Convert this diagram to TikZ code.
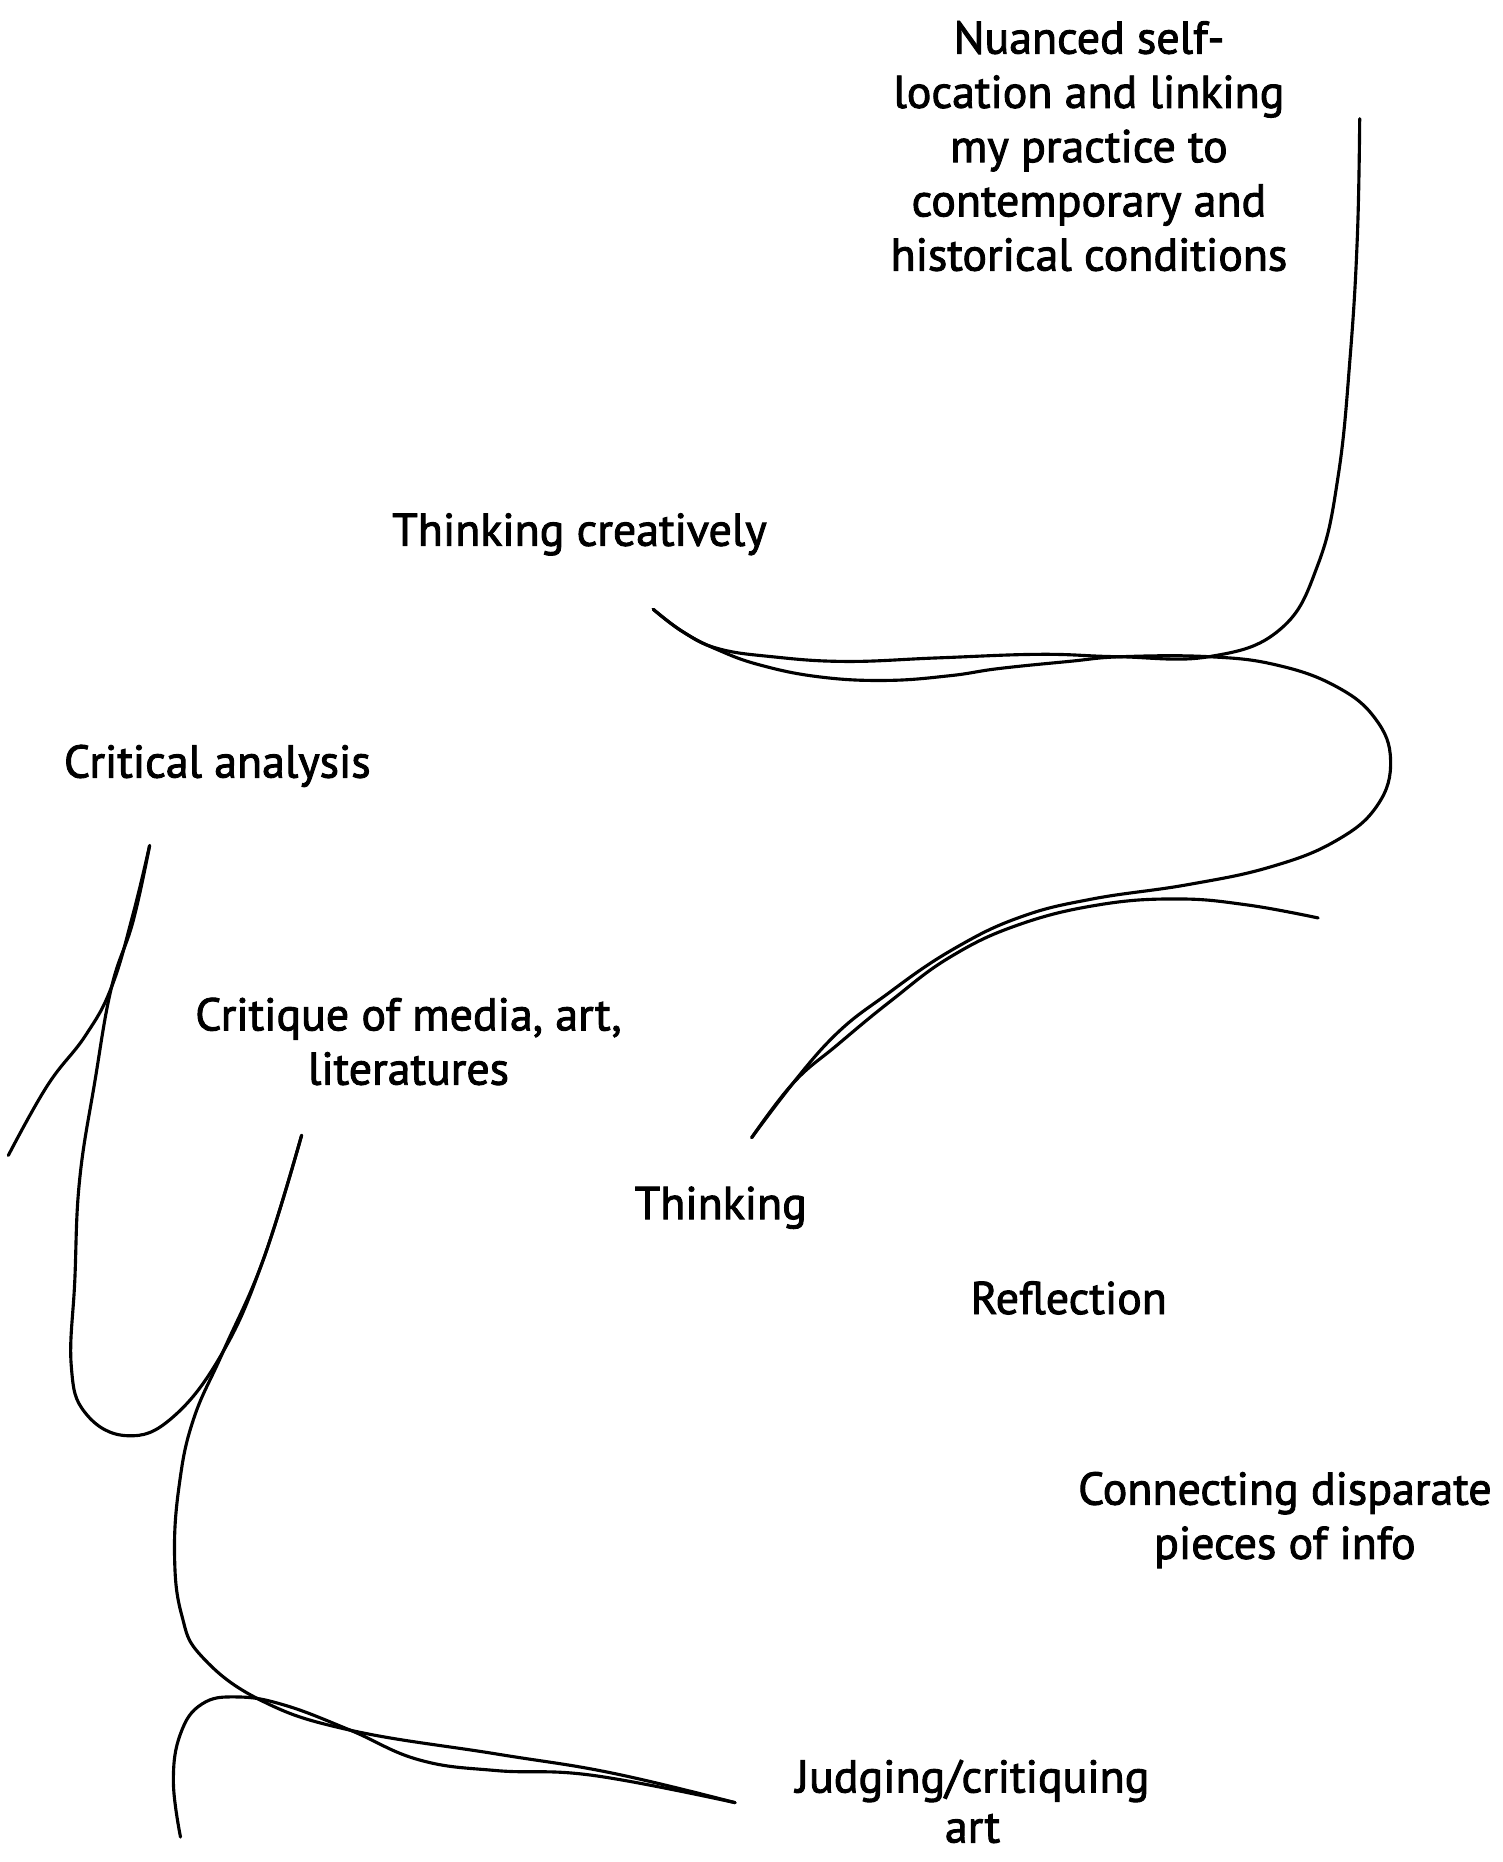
\documentclass[tikz,border=0pt]{standalone}
\usepackage{fontspec}
\setmainfont{PT Sans}[FakeBold=2]

\begin{document}
\begin{tikzpicture}[x=0.02cm,y=-0.02cm,
  lbl/.style={align=center,inner sep=0pt,font=\fontsize{22}{26}\selectfont},
  pen/.style={line width=1.5pt,line cap=round,line join=round},
  ]
 \useasboundingbox (0,0) rectangle (1265,1568);
 % labels
 \node[lbl] (nuanced) at (917,123) {Nuanced self-\\location and linking\\my practice to\\contemporary and\\historical conditions};
 \node[lbl] (creative) at (488,450) {Thinking creatively};
 \node[lbl] (critical) at (183,645) {Critical analysis};
 \node[lbl] (critique) at (344,877) {Critique of media, art,\\literatures};
 \node[lbl] (thinking) at (607,1017) {Thinking};
 \node[lbl] (reflection) at (900,1093) {Reflection};
 \node[lbl] (connecting) at (1082,1280) {Connecting disparate\\pieces of info};
 \node[lbl,font=\fontsize{22}{24}\selectfont] (judging) at (819,1517) {Judging/critiquing\\art};
 % upper line
 \draw[pen] plot[smooth,tension=0.7] coordinates {(1145,100) (1143,200) (1137,300) (1127,400) (1110,475) (1078,530) (1018,553) (941,553) (876,551) (790,554) (712,557) (650,553) (604,546) (575,532) (550,513)};
 \draw[pen] plot[smooth,tension=0.7] coordinates {(550,513) (575,532) (604,547) (640,560) (690,570) (746,573) (800,569) (841,563) (900,557) (945,553) (1018,553) (1075,560) (1125,578) (1158,605) (1171,640) (1160,678) (1125,708) (1070,730) (1000,745) (920,757) (860,772) (805,798) (750,835) (695,880) (633,958)};
 \draw[pen] plot[smooth,tension=0.7] coordinates {(633,958) (668,912) (705,880) (750,843) (800,806) (857,779) (925,762) (991,757) (1050,762) (1110,773)};
 % lower line
 \draw[pen] plot[smooth,tension=0.7] coordinates {(7,973) (40,914) (72,872) (94,831) (112,770) (126,712)};
 \draw[pen] plot[smooth,tension=0.7] coordinates {(126,712) (112,776) (94,831) (80,910) (67,994) (63,1078) (60,1150) (72,1190) (107,1209) (146,1193) (188,1138) (222,1060) (254,956)};
 \draw[pen] plot[smooth,tension=0.7] coordinates {(254,956) (222,1060) (188,1138) (163,1195) (151,1250) (147,1310) (153,1360) (170,1395) (220,1432) (295,1457) (418,1477) (515,1493) (619,1518)};
 \draw[pen] plot[smooth,tension=0.7] coordinates {(619,1518) (499,1495) (418,1491) (353,1482) (295,1457) (240,1436) (200,1429) (170,1435) (152,1460) (146,1500) (152,1547)};
\end{tikzpicture}
\end{document}
